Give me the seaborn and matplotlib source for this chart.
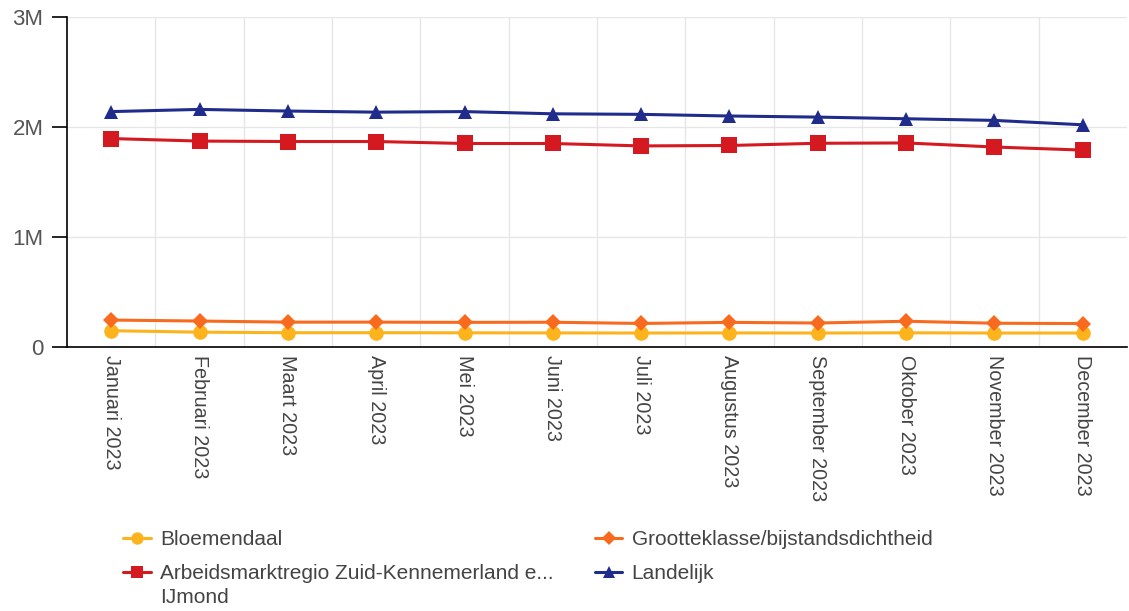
import pandas as pd
import matplotlib.pyplot as plt
import seaborn as sns
from matplotlib.lines import Line2D
from matplotlib.ticker import FixedLocator, FuncFormatter

# Maanden en reeksen
maanden = ['Januari 2023', 'Februari 2023', 'Maart 2023', 'April 2023', 'Mei 2023',
           'Juni 2023', 'Juli 2023', 'Augustus 2023', 'September 2023', 'Oktober 2023',
           'November 2023', 'December 2023']
bloemendaal = [148000, 135000, 130000, 130000, 129000, 128000, 127000, 128000, 127000,
               129000, 127000, 127000]
grootteklasse = [245000, 236000, 226000, 226000, 224000, 225000, 214000, 224000, 218000,
                 234000, 216000, 213000]
arbeidsmarkt = [1895000, 1872000, 1868000, 1868000, 1850000, 1850000, 1828000, 1832000,
                1852000, 1855000, 1818000, 1790000]
landelijk = [2140000, 2160000, 2145000, 2135000, 2140000, 2120000, 2115000, 2100000,
             2090000, 2075000, 2060000, 2020000]

reeksen = ['Bloemendaal', 'Grootteklasse/bijstandsdichtheid',
           'Arbeidsmarktregio Zuid-Kennemerland e...', 'Landelijk']
tweede_regel = 'IJmond'
kleuren = ['#FDB31C', '#F86B1F', '#D41920', '#1F2C8C']
markers = ['o', 'D', 's', '^']
msizes = [10.5, 8, 11, 10.5]

rows = []
for naam, waarden in zip(reeksen, [bloemendaal, grootteklasse, arbeidsmarkt, landelijk]):
    for i, v in enumerate(waarden):
        rows.append({'maand': i, 'waarde': v, 'reeks': naam})
df = pd.DataFrame(rows)

sns.set_style('white')
plt.rcParams['font.family'] = ['Liberation Sans', 'DejaVu Sans']

fig = plt.figure(figsize=(11.29, 6.11), dpi=100)
ax = fig.add_axes([67 / 1129, 1 - 347 / 611, 1060 / 1129, 330 / 611])

for naam, kleur, m, ms in zip(reeksen, kleuren, markers, msizes):
    sns.lineplot(data=df[df['reeks'] == naam], x='maand', y='waarde', color=kleur,
                 marker=m, markersize=ms, markeredgewidth=0, linewidth=2.2, ax=ax,
                 legend=False)

ax.set_xlim(-0.5, 11.5)
ax.set_ylim(0, 3000000)
ax.set_xticks(range(len(maanden)))
ax.set_xticklabels(maanden, rotation=270, fontsize=14.2, color='#444444')
ax.xaxis.set_minor_locator(FixedLocator([i + 0.5 for i in range(11)]))
ax.set_yticks([0, 1000000, 2000000, 3000000])
ax.yaxis.set_major_formatter(FuncFormatter(lambda v, p: '0' if v == 0 else f'{int(v / 1e6)}M'))
ax.tick_params(axis='y', labelsize=16, labelcolor='#555555', length=11, width=1.2,
               color='black', pad=6, left=True)
ax.tick_params(axis='x', which='both', length=0, pad=6)
ax.grid(axis='y', which='major', color='#e6e6e6', linewidth=1)
ax.grid(axis='x', which='minor', color='#e6e6e6', linewidth=1)
ax.set_xlabel('')
ax.set_ylabel('')
for s in ['top', 'right']:
    ax.spines[s].set_visible(False)
for s in ['left', 'bottom']:
    ax.spines[s].set_color('black')
    ax.spines[s].set_linewidth(1.2)

# legenda: kolomsgewijs gevuld
volgorde = [0, 2, 1, 3]
handles = [Line2D([], [], color=kleuren[i], marker=markers[i], markersize=msizes[i] * 0.85,
                  markeredgewidth=0, linewidth=2.2) for i in volgorde]
labels = [reeksen[i] for i in volgorde]
leg = fig.legend(handles, labels, ncol=2, loc='upper left', bbox_to_anchor=(113 / 1129, 1 - 520 / 611),
                 frameon=False, fontsize=15, handlelength=1.3, handletextpad=0.45,
                 columnspacing=2.0, labelspacing=0.7, borderpad=0)
for t in leg.get_texts():
    t.set_color('#444444')

# tweede regel van het lange label onder de eerste regel
fig.canvas.draw()
bb = leg.get_texts()[1].get_window_extent()
x0, y0 = fig.transFigure.inverted().transform((bb.x0, bb.y0))
fig.text(x0, y0 - 5 / 611, tweede_regel, fontsize=15, color='#444444', va='top', ha='left')

plt.savefig('out.png', dpi=100)
